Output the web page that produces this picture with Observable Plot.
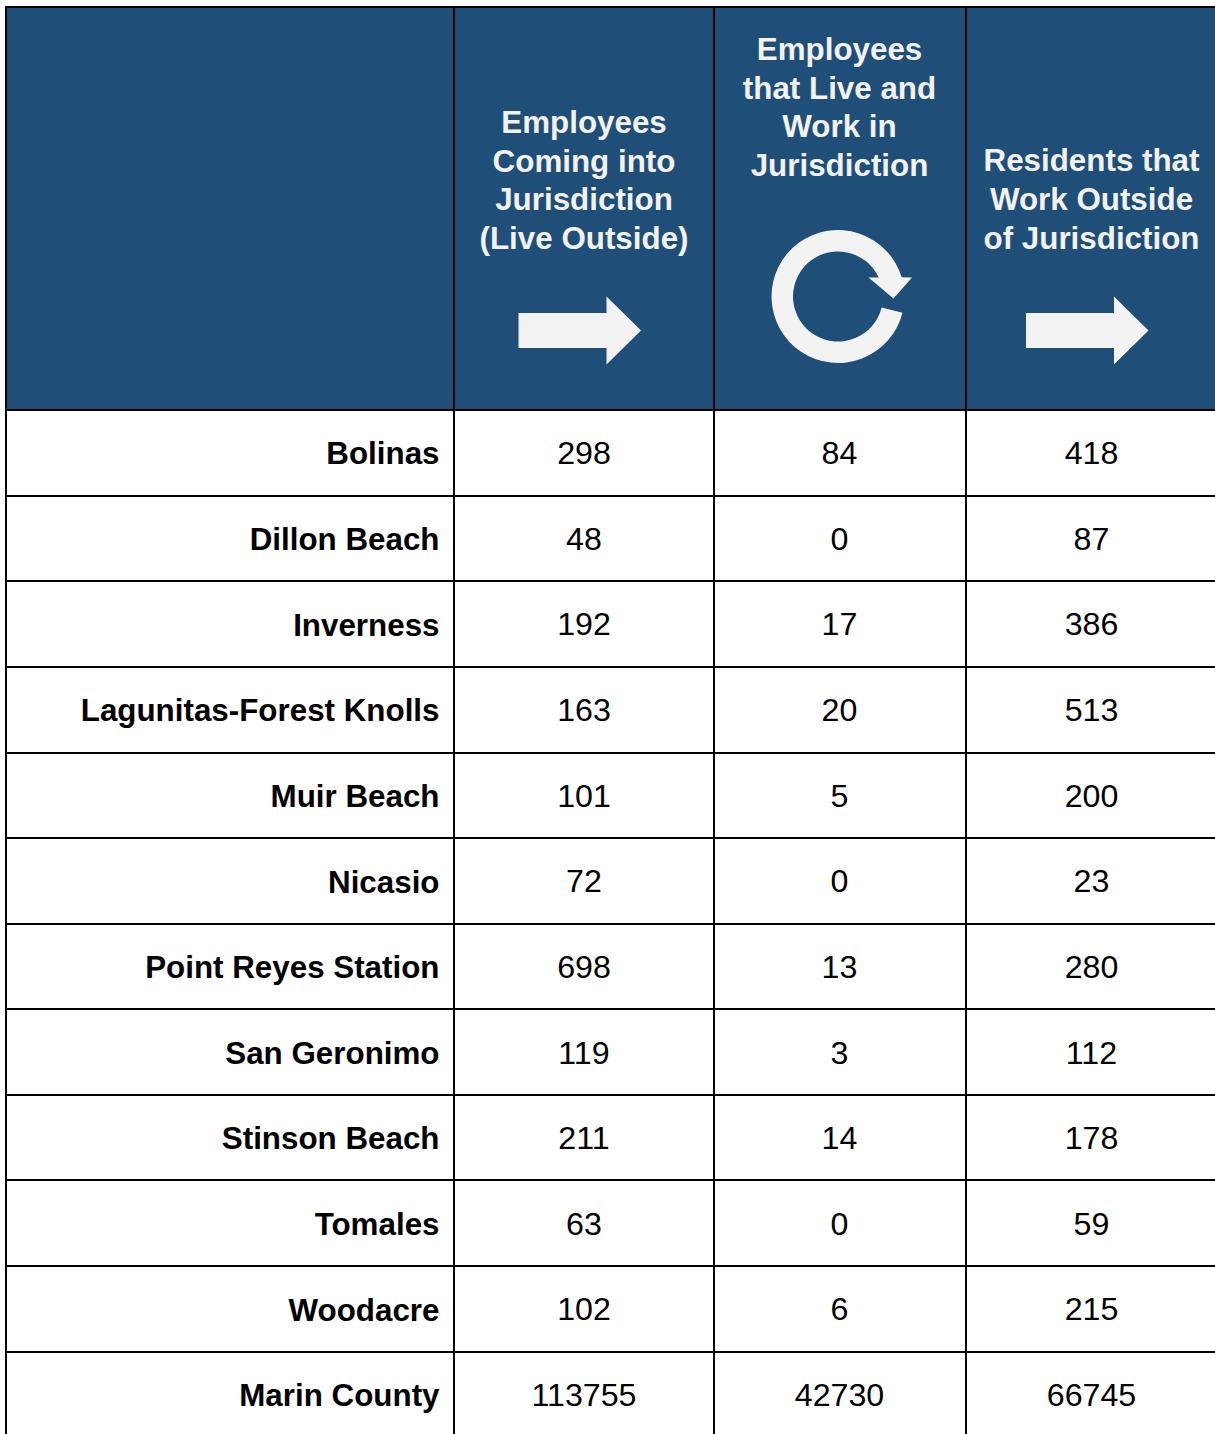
<!DOCTYPE html>
<html>
<head>
<meta charset="utf-8">
<style>html,body{margin:0;padding:0;background:#fff;overflow:hidden}svg{display:block}</style>
<script src="https://cdn.jsdelivr.net/npm/d3@7"></script>
<script src="https://cdn.jsdelivr.net/npm/@observablehq/plot@0.6"></script>
</head>
<body>
<div id="chart"></div>
<script>
const jurisdictions = ["Bolinas","Dillon Beach","Inverness","Lagunitas-Forest Knolls","Muir Beach","Nicasio","Point Reyes Station","San Geronimo","Stinson Beach","Tomales","Woodacre","Marin County"];
const comingIn = [298,48,192,163,101,72,698,119,211,63,102,113755];
const liveAndWork = [84,0,17,20,5,0,13,3,14,0,6,42730];
const workOutside = [418,87,386,513,200,23,280,112,178,59,215,66745];
const headers = [
  "Employees\nComing into\nJurisdiction\n(Live Outside)",
  "Employees\nthat Live and\nWork in\nJurisdiction",
  "Residents that\nWork Outside\nof Jurisdiction"
];

// Layout of the grid (horizontal units are pixels, vertical units are table rows)
const columnEdges = [6, 454, 714, 966];
const bodyCenters = [583.5, 839, 1091];
const headerCenters = [583.5, 839, 1091];
const iconCenters = [584, 837.5, 1091.5];
const rowLines = [410, 496, 581, 667, 753, 838, 924, 1009, 1095, 1180, 1266, 1352];
const rowHeight = 85.63;
const rowOf = px => (px - rowLines[0]) / rowHeight;
const headerTop = 7;
const headerMiddles = [178, 105, 197];
const labelRight = 439;
const font = "'Liberation Sans', Arial, sans-serif";
const blue = "#1f4e79", pale = "#f2f2f2";

const rows = jurisdictions.map((name, i) => ({name, i, values: [comingIn[i], liveAndWork[i], workOutside[i]]}));
const cells = rows.flatMap(r => r.values.map((v, c) => ({row: r.i, col: c, label: String(v)})));
const headerCells = headers.map((text, c) => ({text, col: c}));

const arrowSymbol = {draw(ctx) {
  ctx.moveTo(-66, -17.5); ctx.lineTo(22, -17.5); ctx.lineTo(22, -34);
  ctx.lineTo(56.5, 0); ctx.lineTo(22, 34); ctx.lineTo(22, 17.5); ctx.lineTo(-66, 17.5); ctx.closePath();
}};
const cycleSymbol = {draw(ctx) {
  const R = 66.5, r = 45;
  const a = Math.atan2(-19, 63), b = Math.atan2(16, 64), ai = Math.atan2(-19, 40.5), bi = Math.atan2(11, 44);
  ctx.moveTo(R * Math.cos(b), R * Math.sin(b));
  ctx.arc(0, 0, R, b, a + 2 * Math.PI, false);
  ctx.lineTo(74, -19); ctx.lineTo(55.5, 2); ctx.lineTo(30.5, -19);
  ctx.lineTo(r * Math.cos(ai), r * Math.sin(ai));
  ctx.arc(0, 0, r, ai + 2 * Math.PI, bi, true);
  ctx.closePath();
}};

const chart = Plot.plot({
  width: 1215, height: 1434,
  marginTop: 0, marginRight: 0, marginBottom: 0, marginLeft: 0,
  style: {background: "#fff", fontFamily: font},
  x: {axis: null, domain: [0, 1215], range: [0, 1215]},
  y: {axis: null, domain: [rowOf(0), rowOf(1434)], range: [0, 1434]},
  marks: [
    Plot.rect([0], {x1: columnEdges[0], x2: 1215, y1: rowOf(headerTop), y2: 0, fill: blue, inset: 0}),
    Plot.ruleX(columnEdges, {x: d => d, y1: rowOf(headerTop - 1), y2: rowOf(1434), stroke: "#000", strokeWidth: 2, dx: -0.5}),
    Plot.ruleY(rowLines, {y: d => rowOf(d), x1: columnEdges[0] - 1, x2: 1215, stroke: "#000", strokeWidth: 2, dy: -0.5}),
    Plot.ruleY([headerTop], {y: d => rowOf(d), x1: columnEdges[0] - 1, x2: 1215, stroke: "#000", strokeWidth: 2, dy: -0.5}),
    Plot.text(headerCells, {
      x: d => headerCenters[d.col], y: d => rowOf(headerMiddles[d.col]), text: "text",
      fontSize: 31.35, fontWeight: "bold", fill: pale, textAnchor: "middle", lineAnchor: "middle", lineHeight: 1.24
    }),
    Plot.dot([iconCenters[0], iconCenters[2]], {x: d => d, y: rowOf(330), symbol: arrowSymbol, fill: pale, stroke: "none"}),
    Plot.dot([iconCenters[1]], {x: d => d, y: rowOf(296), symbol: cycleSymbol, fill: pale, stroke: "none"}),
    Plot.text(rows, {
      x: labelRight, y: d => d.i + 0.5, dy: 1, text: "name",
      fontSize: 31.35, fontWeight: "bold", fill: "#000", textAnchor: "end", lineAnchor: "middle"
    }),
    Plot.text(cells, {
      x: d => bodyCenters[d.col], y: d => d.row + 0.5, dy: 0.5, text: "label",
      fontSize: 32.2, fill: "#000", textAnchor: "middle", lineAnchor: "middle"
    })
  ]
});
document.getElementById("chart").appendChild(chart);
</script>
</body>
</html>
